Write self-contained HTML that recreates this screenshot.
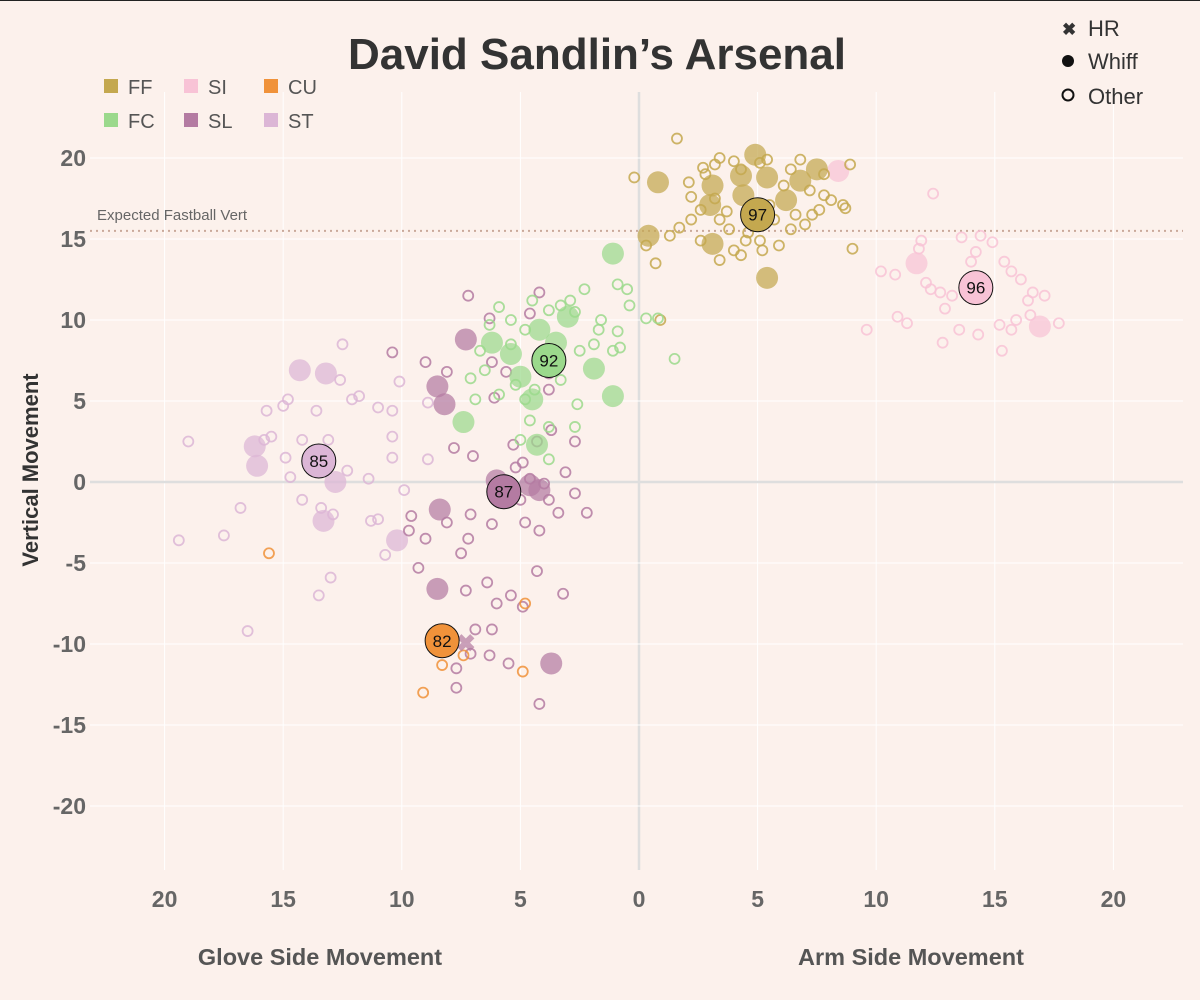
<!DOCTYPE html>
<html><head><meta charset="utf-8"><style>
body{margin:0;background:#fcf1ec;}
svg{display:block;font-family:"Liberation Sans",sans-serif;}
</style></head><body>
<svg id="chart" width="1200" height="1000" viewBox="0 0 1200 1000">
<rect x="0" y="0" width="1200" height="1000" fill="#fcf1ec"/>
<rect x="0" y="0" width="1200" height="1" fill="#222"/>
<g id="grid"></g><g id="marks"></g><g id="axes"></g>
<text x="597" y="69" text-anchor="middle" font-size="44" font-weight="bold" fill="#333">David Sandlin’s Arsenal</text>
<text x="320" y="965" text-anchor="middle" font-size="23.5" font-weight="bold" fill="#555">Glove Side Movement</text>
<text x="911" y="965" text-anchor="middle" font-size="23.5" font-weight="bold" fill="#555">Arm Side Movement</text>
<text transform="translate(38,470) rotate(-90)" text-anchor="middle" font-size="22" font-weight="bold" fill="#333">Vertical Movement</text>
<text x="97" y="220" font-size="15" fill="#666">Expected Fastball Vert</text>
<g id="legend"></g>
<g font-size="22" fill="#333">
<text x="1062" y="35" font-size="17" font-weight="bold">✖</text>
<text x="1088" y="36">HR</text>
<circle cx="1068" cy="61" r="6" fill="#111"/>
<text x="1088" y="69">Whiff</text>
<circle cx="1068" cy="95" r="5.5" fill="none" stroke="#111" stroke-width="2"/>
<text x="1088" y="104">Other</text>
</g>
</svg>
<script>
const NS="http://www.w3.org/2000/svg";
const xTicks=[-20,-15,-10,-5,0,5,10,15,20];
const yTicks=[20,15,10,5,0,-5,-10,-15,-20];
const expectedFastballVert=15.5;
const types=["FF","FC","SI","SL","CU","ST"];
const colors={FF:"#c4a84f",FC:"#9bd98c",SI:"#f8c3d6",SL:"#b47ba2",CU:"#f0923a",ST:"#dcb6d6"};
const ffOpenX=[1.6,3.4,-0.2,2.1,2.8,4.0,5.1,2.2,2.6,3.4,3.8,4.5,4.3,5.2,5.7,6.4,7.0,7.6,8.6,9.0,8.7,8.9,7.8,7.2,8.1,0.7,1.3,2.2,1.7,2.6,3.2,3.7,4.0,4.6,5.5,6.1,6.6,7.3,7.8,0.9,0.3,2.7,3.2,4.3,5.4,6.4,6.8,3.4,5.1,5.9];
const ffOpenY=[21.2,20.0,18.8,18.5,19.0,19.8,19.7,17.6,16.8,16.2,15.6,14.9,14.0,14.3,16.2,15.6,15.9,16.8,17.1,14.4,16.9,19.6,19.0,18.0,17.4,13.5,15.2,16.2,15.7,14.9,17.5,16.7,14.3,15.4,17.1,18.3,16.5,16.5,17.7,10.0,14.6,19.4,19.6,19.3,19.9,19.3,19.9,13.7,14.9,14.6];
const ffWhiffX=[4.9,0.8,0.4,3.1,5.4,7.5,4.3,5.4,3.1,6.8,6.2,3.0,4.4];
const ffWhiffY=[20.2,18.5,15.2,14.7,12.6,19.3,18.9,18.8,18.3,18.6,17.4,17.1,17.7];
const fcOpenX=[0.3,0.8,1.5,-0.5,-0.9,-0.9,-0.8,-1.1,-1.7,-1.9,-2.5,-2.7,-2.9,-3.3,-3.8,-4.8,-5.4,-5.9,-6.3,-6.7,-7.1,-6.9,-6.5,-5.9,-5.2,-4.8,-4.4,-3.3,-2.6,-2.7,-3.8,-4.6,-5.0,-3.8,-5.4,-4.5,-2.3,-1.6,-0.4];
const fcOpenY=[10.1,10.1,7.6,11.9,12.2,9.3,8.3,8.1,9.4,8.5,8.1,10.5,11.2,10.9,10.6,9.4,10.0,10.8,9.7,8.1,6.4,5.1,6.9,5.4,6.0,5.1,5.7,6.3,4.8,3.4,3.4,3.8,2.6,1.4,8.5,11.2,11.9,10.0,10.9];
const fcWhiffX=[-1.1,-1.1,-1.9,-4.3,-4.5,-7.4,-6.2,-5.4,-3.5,-3.0,-5.0,-4.2];
const fcWhiffY=[14.1,5.3,7.0,2.3,5.1,3.7,8.6,7.9,8.6,10.2,6.5,9.4];
const siOpenX=[12.4,11.9,11.8,13.6,14.4,14.9,14.2,14.0,15.4,15.7,16.1,16.6,17.1,17.7,9.6,10.2,10.8,11.3,12.1,12.7,12.9,13.2,13.5,14.3,15.3,15.2,15.7,15.9,16.4,16.5,12.3,10.9,12.8];
const siOpenY=[17.8,14.9,14.4,15.1,15.2,14.8,14.2,13.6,13.6,13.0,12.5,11.7,11.5,9.8,9.4,13.0,12.8,9.8,12.3,11.7,10.7,11.5,9.4,9.1,8.1,9.7,9.4,10.0,11.2,10.3,11.9,10.2,8.6];
const siWhiffX=[8.4,11.7,16.9];
const siWhiffY=[19.2,13.5,9.6];
const slOpenX=[-7.2,-6.3,-10.4,-9.0,-8.1,-6.2,-5.6,-6.1,-4.2,-4.6,-4.0,-3.8,-3.8,-7.8,-7.0,-5.3,-4.9,-4.3,-3.7,-5.2,-4.6,-4.0,-3.1,-2.7,-2.2,-2.7,-3.8,-3.4,-5.0,-4.8,-4.2,-6.2,-7.1,-8.1,-9.6,-9.7,-9.0,-9.3,-7.5,-7.2,-7.3,-6.4,-6.0,-5.4,-4.9,-4.3,-3.2,-6.2,-6.3,-7.1,-7.7,-5.5,-4.2,-7.7,-6.9];
const slOpenY=[11.5,10.1,8.0,7.4,6.8,7.4,6.8,5.2,11.7,10.4,8.1,6.7,5.7,2.1,1.6,2.3,1.2,2.5,3.2,0.9,0.2,-0.1,0.6,-0.7,-1.9,2.5,-1.1,-1.9,-1.1,-2.5,-3.0,-2.6,-2.0,-2.5,-2.1,-3.0,-3.5,-5.3,-4.4,-3.5,-6.7,-6.2,-7.5,-7.0,-7.7,-5.5,-6.9,-9.1,-10.7,-10.6,-11.5,-11.2,-13.7,-12.7,-9.1];
const slWhiffX=[-7.3,-8.5,-8.2,-6.0,-4.2,-8.4,-8.5,-3.7,-4.6];
const slWhiffY=[8.8,5.9,4.8,0.1,-0.5,-1.7,-6.6,-11.2,-0.2];
const slHrX=[-7.3];
const slHrY=[-9.9];
const stOpenX=[-19.0,-19.4,-17.5,-16.8,-16.5,-15.7,-15.8,-14.9,-15.0,-14.8,-14.7,-14.2,-13.6,-14.2,-13.5,-13.1,-13.0,-13.4,-12.5,-12.6,-12.3,-12.1,-11.8,-11.0,-11.3,-11.4,-11.0,-10.7,-10.4,-10.4,-10.1,-10.4,-8.9,-9.9,-8.9,-12.9,-15.5];
const stOpenY=[2.5,-3.6,-3.3,-1.6,-9.2,4.4,2.6,1.5,4.7,5.1,0.3,2.6,4.4,-1.1,-7.0,2.6,-5.9,-1.6,8.5,6.3,0.7,5.1,5.3,4.6,-2.4,0.2,-2.3,-4.5,4.4,2.8,6.2,1.5,1.4,-0.5,4.9,-2.0,2.8];
const stWhiffX=[-14.3,-13.2,-16.2,-16.1,-12.8,-13.3,-10.2];
const stWhiffY=[6.9,6.7,2.2,1.0,0.0,-2.4,-3.6];
const cuOpenX=[-15.6,-8.3,-9.1,-7.4,-4.9,-4.8];
const cuOpenY=[-4.4,-11.3,-13.0,-10.7,-11.7,-7.5];
const avgX=[5.0,-3.8,14.2,-5.7,-8.3,-13.5];
const avgY=[16.5,7.5,12.0,-0.6,-9.8,1.3];
const avgVelo=["97","92","96","87","82","85"];

const X0=639,XS=23.72,Y0=482,YS=16.2;
const sx=v=>X0+v*XS, sy=v=>Y0-v*YS;
const grid=document.getElementById('grid'),marks=document.getElementById('marks'),axes=document.getElementById('axes');
function mk(tag,attrs,parent){const e=document.createElementNS(NS,tag);for(const k in attrs)e.setAttribute(k,attrs[k]);parent.appendChild(e);return e;}
xTicks.forEach(t=>{
  const l=mk('line',{x1:sx(t),x2:sx(t),y1:92,y2:870,stroke:t===0?'#dedede':'#ffffff','stroke-width':t===0?2.5:1},grid);
  
  
  const tx=mk('text',{x:sx(t),y:907,'text-anchor':'middle','font-size':23,'font-weight':'bold',fill:'#666'},axes);
  tx.textContent=Math.abs(t);
  
  
});
yTicks.forEach(t=>{
  const l=mk('line',{x1:90,x2:1183,y1:sy(t),y2:sy(t),stroke:t===0?'#dedede':'#ffffff','stroke-width':t===0?2.5:1},grid);
  
  
  const tx=mk('text',{x:86,y:sy(t)+8,'text-anchor':'end','font-size':23,'font-weight':'bold',fill:'#666'},axes);
  tx.textContent=t;
  
  
});
const ef=mk('line',{x1:90,x2:1183,y1:sy(expectedFastballVert),y2:sy(expectedFastballVert),stroke:'#c9a99a','stroke-width':2,'stroke-dasharray':'2,4'},grid);



const series={
 FF:[ffOpenX,ffOpenY,ffWhiffX,ffWhiffY],FC:[fcOpenX,fcOpenY,fcWhiffX,fcWhiffY],
 SI:[siOpenX,siOpenY,siWhiffX,siWhiffY],SL:[slOpenX,slOpenY,slWhiffX,slWhiffY],
 ST:[stOpenX,stOpenY,stWhiffX,stWhiffY],CU:[cuOpenX,cuOpenY,[],[]]};
["SI","FF","ST","SL","FC","CU"].forEach(tp=>{
  const [ox,oy,wx,wy]=series[tp],c=colors[tp];
  ox.forEach((v,i)=>{
    const p=mk('circle',{cx:sx(v),cy:sy(oy[i]),r:5,fill:'none',stroke:c,'stroke-width':1.8,opacity:0.85},marks);
    
    
  });
  wx.forEach((v,i)=>{
    const p=mk('circle',{cx:sx(v),cy:sy(wy[i]),r:11,fill:c,opacity:0.72},marks);
    
    
  });
});
slHrX.forEach((v,i)=>{
  const t=mk('text',{x:sx(v),y:sy(slHrY[i])+9,'text-anchor':'middle','font-size':24,'font-weight':'bold',fill:colors.SL,opacity:0.7},marks);
  t.textContent='✖';
  
  
});
types.forEach((tp,i)=>{
  const c=mk('circle',{cx:sx(avgX[i]),cy:sy(avgY[i]),r:17,fill:colors[tp],stroke:'#111','stroke-width':1},marks);
  
  
  const t=mk('text',{x:sx(avgX[i]),y:sy(avgY[i])+6,'text-anchor':'middle','font-size':17,fill:'#111'},marks);
  t.textContent=avgVelo[i];
  
  
});
const lg=document.getElementById('legend');
const legendOrder=["FF","SI","CU","FC","SL","ST"];
legendOrder.forEach((tp,i)=>{
  const col=i%3,row=Math.floor(i/3);
  const x=104+col*80,y=79+row*34;
  const r=mk('rect',{x:x,y:y,width:14,height:14,fill:colors[tp]},lg);
  
  
  const t=mk('text',{x:x+24,y:y+15,'font-size':20,fill:'#555'},lg);
  t.textContent=tp;
  
  
});
</script>
</body></html>
